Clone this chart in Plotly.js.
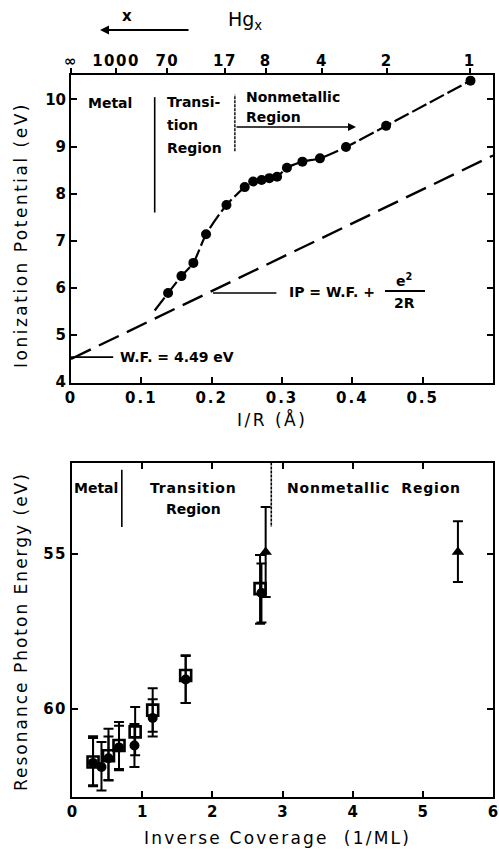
<!DOCTYPE html>
<html>
<head>
<meta charset="utf-8">
<script src="https://cdn.plot.ly/plotly-3.0.1.min.js"></script>
<style>
  html, body { margin: 0; padding: 0; background: #fff; }
  #chart { width: 499px; height: 850px; }
</style>
</head>
<body>
<div id="chart"></div>
<script>
// ---- Upper panel: ionization potential of Hg_x clusters vs 1/R ----
const invR = [0.138, 0.157, 0.174, 0.192, 0.221, 0.247, 0.259, 0.271, 0.282, 0.293, 0.307, 0.329, 0.354, 0.391, 0.448, 0.568];
const ionPot = [5.89, 6.25, 6.53, 7.14, 7.76, 8.14, 8.26, 8.29, 8.33, 8.36, 8.55, 8.68, 8.75, 8.99, 9.44, 10.40];
// low-R end of the guide curve drawn through the points
const curveStartX = [0.119];
const curveStartY = [5.52];

// Cluster-size scale along the top (Hg_x) at its 1/R positions
const hgTickPos = [0, 0.064, 0.137, 0.219, 0.277, 0.357, 0.449, 0.567];
const hgTickText = ['∞', '1000', '70', '17', '8', '4', '2', '1'];

// Metallic-sphere model: IP = W.F. + e^2 / 2R
const workFunction = 4.49;   // eV
const halfE2 = 7.2;          // e^2/2 in eV·Å
const modelX = [0, 0.6];

// ---- Lower panel: resonance photon energy vs inverse coverage ----
const sqX = [0.30, 0.52, 0.67, 0.90, 1.15, 1.62, 2.68];
const sqY = [61.72, 61.52, 61.19, 60.75, 60.05, 58.93, 56.13];
const sqErrLow = [0.83, 0.87, 0.76, 0.80, 0.71, 0.65, 1.08];
const sqErrHigh = [0.75, 0.80, 0.80, 0.75, 0.70, 0.89, 1.13];

const ciX = [0.30, 0.42, 0.52, 0.67, 0.89, 1.15, 1.62, 2.70];
const ciY = [61.75, 61.88, 61.60, 61.25, 61.19, 60.30, 59.06, 56.27];
const ciErrLow = [0.80, 0.80, 0.70, 0.70, 0.69, 0.60, 0.76, 0.95];
const ciErrHigh = [0.75, 0.76, 0.70, 0.70, 0.69, 0.60, 0.76, 0.95];

const trX = [2.76, 5.50];
const trY = [54.95, 54.95];
const trErrLow = [1.45, 0.99];
const trErrHigh = [1.45, 0.97];

const FONT = 'DejaVu Sans, Liberation Sans, sans-serif';
const INK = '#000';

const modelY = modelX.map(v => workFunction + halfE2 * v);

const traces = [
  {
    x: modelX, y: modelY, xaxis: 'x2', yaxis: 'y',
    mode: 'lines', line: {color: INK, width: 2.4, dash: '22px,9px'},
    hoverinfo: 'skip'
  },
  {
    x: curveStartX.concat(invR), y: curveStartY.concat(ionPot), xaxis: 'x', yaxis: 'y',
    mode: 'lines', line: {color: INK, width: 2.2, shape: 'spline', smoothing: 0.6, dash: '16px,4px'},
    hoverinfo: 'skip'
  },
  {
    x: invR, y: ionPot, xaxis: 'x', yaxis: 'y',
    mode: 'markers', marker: {color: INK, size: 10, symbol: 'circle'}
  },
  {
    x: ciX, y: ciY, xaxis: 'x3', yaxis: 'y3', mode: 'markers',
    marker: {color: INK, size: 10, symbol: 'circle'},
    error_y: {type: 'data', symmetric: false, array: ciErrHigh, arrayminus: ciErrLow, color: INK, thickness: 2, width: 5}
  },
  {
    x: sqX, y: sqY, xaxis: 'x3', yaxis: 'y3', mode: 'markers',
    marker: {color: INK, size: 11, symbol: 'square-open', line: {width: 2.6, color: INK}},
    error_y: {type: 'data', symmetric: false, array: sqErrHigh, arrayminus: sqErrLow, color: INK, thickness: 2, width: 5}
  },
  {
    x: trX, y: trY, xaxis: 'x3', yaxis: 'y3', mode: 'markers',
    marker: {color: INK, size: 11, symbol: 'triangle-up'},
    error_y: {type: 'data', symmetric: false, array: trErrHigh, arrayminus: trErrLow, color: INK, thickness: 2, width: 5}
  }
];

const tickFont = {family: FONT, size: 15, color: INK, weight: 'bold'};
const labFont = {family: FONT, size: 14, color: INK, weight: 'bold'};
const titleFont = {family: FONT, size: 17, color: INK};

// widen the lettering of a text run
const spaced = (t, s) => '<span style="letter-spacing:' + s + 'px">' + t + '</span>';

const baseAxis = {
  showgrid: false, zeroline: false, showline: true, linecolor: INK, linewidth: 2,
  ticks: 'inside', ticklen: 6, tickwidth: 2, tickcolor: INK, tickfont: tickFont
};

const W = 499, H = 850;
const px = v => v / W;
const py = v => 1 - v / H;

// text placed at a pixel position, centred unless told otherwise
function label(x, y, text, font, extra) {
  return Object.assign({
    xref: 'paper', yref: 'paper', x: px(x), y: py(y), text: text,
    showarrow: false, font: font, xanchor: 'center', yanchor: 'middle'
  }, extra || {});
}
function arrow(xHead, yHead, xTail, yTail, width) {
  return {
    xref: 'paper', yref: 'paper', x: px(xHead), y: py(yHead),
    axref: 'paper', ayref: 'paper', ax: px(xTail), ay: py(yTail),
    text: '', showarrow: true, arrowhead: 2, arrowsize: 1, arrowwidth: width, arrowcolor: INK,
    xanchor: 'center', yanchor: 'middle'
  };
}

const layout = {
  width: W, height: H,
  margin: {l: 0, r: 0, t: 0, b: 0},
  paper_bgcolor: '#fff', plot_bgcolor: '#fff',
  showlegend: false,
  xaxis: Object.assign({}, baseAxis, {
    domain: [px(71), px(493)], anchor: 'y', range: [0, 0.6],
    tickvals: [0, 0.1, 0.2, 0.3, 0.4, 0.5],
    ticktext: ['0', '0.1', '0.2', '0.3', '0.4', '0.5'].map(t => spaced(t, 2)),
    mirror: false
  }),
  xaxis2: Object.assign({}, baseAxis, {
    overlaying: 'x', side: 'top', anchor: 'y', range: [0, 0.6],
    ticks: 'outside', ticklen: 5, ticklabelstandoff: -4,
    tickvals: hgTickPos, ticktext: hgTickText.map(t => spaced(t, 1.5))
  }),
  yaxis: Object.assign({}, baseAxis, {
    domain: [py(383), py(75)], anchor: 'x', range: [3.98, 10.52],
    dtick: 1, tick0: 0, mirror: 'ticks'
  }),
  xaxis3: Object.assign({}, baseAxis, {
    domain: [px(72), px(493)], anchor: 'y3', range: [0, 6],
    dtick: 1, tick0: 0, mirror: 'ticks'
  }),
  yaxis3: Object.assign({}, baseAxis, {
    domain: [py(797), py(463)], anchor: 'x3', range: [62.85, 52.08],
    tickvals: [55, 60], ticktext: ['55', '60'].map(t => spaced(t, 1.5)), mirror: 'ticks'
  }),
  shapes: [
    // upper panel region dividers
    {type: 'line', xref: 'x', yref: 'y', x0: 0.119, x1: 0.119, y0: 7.6, y1: 10.05, line: {color: INK, width: 1.6}},
    {type: 'line', xref: 'x', yref: 'y', x0: 0.233, x1: 0.233, y0: 8.9, y1: 10.1, line: {color: INK, width: 1.4, dash: '3px,1px'}},
    // leaders to the formula and work-function labels
    {type: 'line', xref: 'x', yref: 'y', x0: 0.202, x1: 0.292, y0: 5.89, y1: 5.89, line: {color: INK, width: 1.6}},
    {type: 'line', xref: 'x', yref: 'y', x0: 0, x1: 0.06, y0: 4.53, y1: 4.53, line: {color: INK, width: 1.6}},
    // fraction bar of e^2/2R
    {type: 'line', xref: 'paper', yref: 'paper', x0: px(385), x1: px(425), y0: py(291), y1: py(291), line: {color: INK, width: 1.8}},
    // lower panel region dividers
    {type: 'line', xref: 'x3', yref: 'y3', x0: 0.71, x1: 0.71, y0: 52.3, y1: 54.14, line: {color: INK, width: 1.6}},
    {type: 'line', xref: 'x3', yref: 'y3', x0: 2.84, x1: 2.84, y0: 52.06, y1: 54.14, line: {color: INK, width: 1.6, dash: '3px,1px'}}
  ],
  annotations: [
    // axis titles
    label(21, 235, spaced('Ionization Potential (eV)', 2.5), titleFont, {textangle: -90}),
    label(272, 419, spaced('I/R (Å)', 2.5), titleFont),
    label(21, 632, spaced('Resonance Photon Energy (eV)', 2), titleFont, {textangle: -90}),
    label(277, 838, spaced('Inverse Coverage  (1/ML)', 2.2), titleFont),
    // top scale caption
    label(245, 21, 'Hg<sub>x</sub>', {family: FONT, size: 19, color: INK}),
    label(127, 16, 'x', {family: FONT, size: 15, color: INK, weight: 'bold'}),
    arrow(100, 30, 190, 30, 1.8),
    // upper panel region labels
    label(110, 103, 'Metal', labFont),
    label(165, 102, 'Transi-', labFont, {xanchor: 'left'}),
    label(165, 125, 'tion', labFont, {xanchor: 'left'}),
    label(165, 148, 'Region', labFont, {xanchor: 'left'}),
    label(244, 97, 'Nonmetallic', labFont, {xanchor: 'left'}),
    label(244, 117, 'Region', labFont, {xanchor: 'left'}),
    arrow(356, 127, 235, 127, 1.6),
    // formula and work function
    label(287, 292, 'IP = W.F. +', labFont, {xanchor: 'left'}),
    label(404, 280, 'e<sup>2</sup>', labFont),
    label(404, 303, '2R', labFont),
    label(118, 357, 'W.F. = 4.49 eV', labFont, {xanchor: 'left'}),
    // lower panel region labels
    label(96, 488, 'Metal', labFont),
    label(193, 488, spaced('Transition', 0.8), labFont),
    label(193, 509, 'Region', labFont),
    label(374, 488, spaced('Nonmetallic  Region', 0.8), labFont)
  ]
};

Plotly.newPlot('chart', traces, layout, {staticPlot: true, displayModeBar: false});
</script>
</body>
</html>
